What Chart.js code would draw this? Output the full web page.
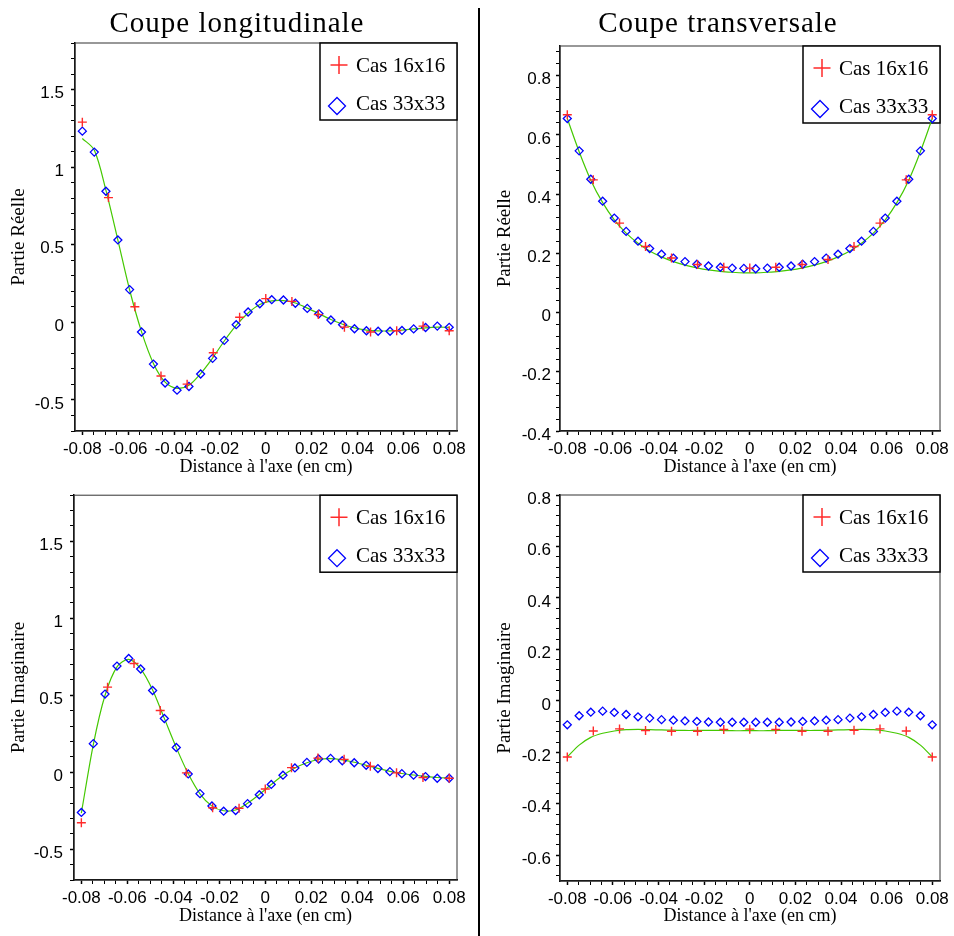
<!DOCTYPE html>
<html lang="fr">
<head>
<meta charset="UTF-8">
<title>Coupes longitudinale et transversale</title>
<style>
  body { margin: 0; background: #fff; }
  #page { position: relative; width: 954px; height: 936px; background: #fff; overflow: hidden; }
  canvas { position: absolute; }
  .titre { position: absolute; top: 6px; line-height: 32px; font-family: "Liberation Serif", serif; font-size: 29px; letter-spacing: 1px; text-align: center; color: #000; }
  #sep { position: absolute; left: 478px; top: 8px; width: 2px; height: 928px; background: #000; }
</style>
</head>
<body>
<div id="page">
  <canvas id="c1" width="478" height="478" style="left:0;top:0"></canvas>
  <canvas id="c2" width="472" height="478" style="left:482px;top:0"></canvas>
  <canvas id="c3" width="478" height="458" style="left:0;top:478px"></canvas>
  <canvas id="c4" width="472" height="458" style="left:482px;top:478px"></canvas>
  <div id="sep"></div>
  <div class="titre" style="left:0;width:474px">Coupe longitudinale</div>
  <div class="titre" style="left:482px;width:472px">Coupe transversale</div>
</div>

<script src="https://cdn.jsdelivr.net/npm/chart.js"></script>
<script>
// abscisses (cm)
const x16 = [-0.08, -0.0686, -0.0571, -0.0457, -0.0343, -0.0229, -0.0114, 0, 0.0114, 0.0229, 0.0343, 0.0457, 0.0571, 0.0686, 0.08];
const x33 = [-0.08, -0.0748, -0.0697, -0.0645, -0.0594, -0.0542, -0.049, -0.0439, -0.0387, -0.0335, -0.0284, -0.0232, -0.0181, -0.0129, -0.0077, -0.0026,
             0.0026, 0.0077, 0.0129, 0.0181, 0.0232, 0.0284, 0.0335, 0.0387, 0.0439, 0.049, 0.0542, 0.0594, 0.0645, 0.0697, 0.0748, 0.08];

// coupe longitudinale, partie reelle
const re16L = [1.29, 0.804, 0.101, -0.346, -0.398, -0.196, 0.033, 0.153, 0.135, 0.05, -0.031, -0.062, -0.054, -0.024, -0.054];
const re33L = [1.232, 1.097, 0.845, 0.531, 0.211, -0.062, -0.269, -0.391, -0.437, -0.413, -0.333, -0.232, -0.116, -0.015, 0.067, 0.12,
               0.146, 0.144, 0.123, 0.09, 0.055, 0.015, -0.015, -0.041, -0.054, -0.057, -0.057, -0.052, -0.042, -0.033, -0.024, -0.032];
const reRefL = [1.185, 1.11, 0.85, 0.53, 0.21, -0.06, -0.265, -0.385, -0.425, -0.405, -0.33, -0.23, -0.12, -0.02, 0.06, 0.115,
                0.138, 0.14, 0.125, 0.092, 0.056, 0.018, -0.012, -0.036, -0.05, -0.055, -0.055, -0.05, -0.042, -0.035, -0.031, -0.032];

// coupe transversale, partie reelle
const re16T = [0.668, 0.448, 0.302, 0.223, 0.184, 0.162, 0.153, 0.15, 0.153, 0.162, 0.179, 0.223, 0.302, 0.448, 0.668];
const re33T = [0.655, 0.546, 0.45, 0.376, 0.319, 0.274, 0.241, 0.216, 0.197, 0.184, 0.172, 0.163, 0.157, 0.153, 0.15, 0.149,
               0.148, 0.15, 0.153, 0.157, 0.163, 0.172, 0.184, 0.197, 0.216, 0.241, 0.274, 0.319, 0.376, 0.45, 0.546, 0.655];
const reRefT = [0.655, 0.543, 0.447, 0.371, 0.313, 0.268, 0.234, 0.208, 0.188, 0.172, 0.16, 0.151, 0.144, 0.139, 0.136, 0.134,
                0.134, 0.136, 0.139, 0.144, 0.151, 0.16, 0.172, 0.188, 0.208, 0.234, 0.268, 0.313, 0.371, 0.447, 0.543, 0.655];

// coupe longitudinale, partie imaginaire
const im16L = [-0.328, 0.553, 0.707, 0.401, -0.004, -0.231, -0.234, -0.109, 0.03, 0.092, 0.084, 0.039, -0.004, -0.034, -0.039];
const im33L = [-0.261, 0.186, 0.508, 0.69, 0.739, 0.671, 0.531, 0.349, 0.161, -0.011, -0.139, -0.219, -0.253, -0.249, -0.204, -0.146,
               -0.079, -0.019, 0.028, 0.064, 0.086, 0.09, 0.075, 0.062, 0.045, 0.024, 0.004, -0.009, -0.019, -0.028, -0.039, -0.039];
const imRefL = [-0.265, 0.18, 0.5, 0.685, 0.733, 0.672, 0.535, 0.35, 0.16, -0.01, -0.14, -0.22, -0.25, -0.245, -0.202, -0.145,
                -0.08, -0.02, 0.028, 0.062, 0.083, 0.088, 0.08, 0.065, 0.045, 0.025, 0.006, -0.008, -0.018, -0.027, -0.034, -0.037];

// coupe transversale, partie imaginaire
const im16T = [-0.218, -0.117, -0.109, -0.115, -0.118, -0.118, -0.111, -0.11, -0.111, -0.118, -0.118, -0.114, -0.109, -0.117, -0.218];
const im33T = [-0.093, -0.058, -0.044, -0.04, -0.045, -0.053, -0.062, -0.067, -0.073, -0.075, -0.078, -0.08, -0.082, -0.083, -0.083, -0.083,
               -0.083, -0.083, -0.083, -0.082, -0.08, -0.078, -0.075, -0.073, -0.067, -0.062, -0.053, -0.045, -0.04, -0.044, -0.058, -0.093];
const imRefT = [-0.218, -0.172, -0.142, -0.126, -0.117, -0.112, -0.111, -0.112, -0.113, -0.114, -0.115, -0.115, -0.115, -0.115, -0.116, -0.116,
                -0.116, -0.116, -0.115, -0.115, -0.115, -0.115, -0.114, -0.113, -0.112, -0.111, -0.112, -0.117, -0.126, -0.142, -0.172, -0.218];

const RED = '#ff2a2a', BLUE = '#0000ff', GREEN = '#44c800';
const SANS = 'Liberation Sans', SERIF = 'Liberation Serif';

function pts(xs, ys) { return xs.map((x, i) => ({ x: x, y: ys[i] })); }
function fmt(v) { return String(Number(v.toFixed(4))); }
function isMult(v, step) { const r = v / step; return Math.abs(r - Math.round(r)) < 1e-6; }
function tickList(lo, hi, step) {
  const out = [];
  for (let k = Math.round(lo / step); k * step <= hi + 1e-9; k++) out.push({ value: Number((k * step).toFixed(4)) });
  return out;
}

// cadre + legende dans le coin haut droit (sous les points)
const cadre = {
  id: 'cadre',
  beforeDatasetsDraw(chart) {
    const { ctx, chartArea: a } = chart;
    ctx.save();
    ctx.strokeStyle = '#333';
    ctx.lineWidth = 1;
    ctx.strokeRect(a.left, a.top, a.right - a.left, a.bottom - a.top);

    const w = 137, h = 77, x0 = a.right - w, y0 = a.top;
    ctx.fillStyle = '#fff';
    ctx.fillRect(x0, y0, w, h);
    ctx.strokeStyle = '#000';
    ctx.lineWidth = 1.5;
    ctx.strokeRect(x0, y0, w, h);

    const ds = chart.data.datasets;
    // croix
    let cx = x0 + 19, cy = y0 + 22;
    ctx.strokeStyle = ds[0].borderColor;
    ctx.lineWidth = 1.5;
    ctx.beginPath();
    ctx.moveTo(cx - 8.5, cy); ctx.lineTo(cx + 8.5, cy);
    ctx.moveTo(cx, cy - 9); ctx.lineTo(cx, cy + 9);
    ctx.stroke();
    // losange
    cx = x0 + 17; cy = y0 + 63;
    ctx.strokeStyle = ds[1].borderColor;
    ctx.lineWidth = 1.3;
    ctx.beginPath();
    ctx.moveTo(cx, cy - 8.5); ctx.lineTo(cx + 8.5, cy); ctx.lineTo(cx, cy + 8.5); ctx.lineTo(cx - 8.5, cy); ctx.closePath();
    ctx.stroke();

    ctx.fillStyle = '#000';
    ctx.font = '21px "' + SERIF + '"';
    ctx.textBaseline = 'alphabetic';
    ctx.fillText(ds[0].label, x0 + 36, y0 + 29);
    ctx.fillText(ds[1].label, x0 + 36, y0 + 67);
    ctx.restore();
  }
};

function panel(id, p) {
  new Chart(document.getElementById(id), {
    type: 'scatter',
    data: {
      datasets: [
        { label: 'Cas 16x16', data: pts(x16, p.y16), pointStyle: 'cross', pointRadius: 4.5, pointHoverRadius: 4.5,
          borderColor: RED, backgroundColor: RED, borderWidth: 1.4, showLine: false },
        { label: 'Cas 33x33', data: pts(x33, p.y33), pointStyle: 'rectRot', pointRadius: 4, pointHoverRadius: 4,
          borderColor: BLUE, backgroundColor: 'rgba(255,255,255,0)', borderWidth: 1.3, showLine: false },
        { label: 'Référence', data: pts(x33, p.yRef), showLine: true, pointRadius: 0, borderColor: GREEN,
          borderWidth: 1.2, tension: 0.3, fill: false }
      ]
    },
    options: {
      responsive: false,
      animation: false,
      layout: { padding: { top: p.top, right: p.right, bottom: 0, left: 0 } },
      plugins: { legend: { display: false }, tooltip: { enabled: false } },
      scales: {
        x: {
          type: 'linear', min: -0.0832, max: 0.0834,
          afterBuildTicks: s => { s.ticks = tickList(-0.08, 0.08, 0.005); },
          afterFit: s => { s.height = p.xh; },
          ticks: { autoSkip: false, maxRotation: 0, padding: p.xpad, color: '#000', font: { family: SANS, size: 17 },
                   callback: v => isMult(v, 0.02) ? fmt(v) : '' },
          grid: { drawOnChartArea: false, tickLength: 4, tickColor: '#000',
                  tickWidth: c => isMult(c.tick.value, 0.02) ? 1.5 : 1 },
          border: { color: '#000', width: 1.5 },
          title: { display: true, text: "Distance à l'axe (en cm)", color: '#000',
                   font: { family: SERIF, size: 18 }, padding: { top: 0, bottom: p.tpad } }
        },
        y: {
          type: 'linear', min: p.ymin, max: p.ymax,
          afterBuildTicks: s => { s.ticks = tickList(p.ymin, p.ymax, p.minor); },
          afterFit: s => { s.width = p.yw; },
          ticks: { autoSkip: false, padding: p.ypad, labelOffset: 4, color: '#000', font: { family: SANS, size: 17 },
                   callback: v => isMult(v, p.major) ? fmt(v) : '' },
          grid: { drawOnChartArea: false, tickLength: 4, tickColor: '#000',
                  tickWidth: c => isMult(c.tick.value, p.major) ? 1.5 : 1 },
          border: { color: '#000', width: 1.5 },
          title: { display: true, text: p.ytitle, color: '#000',
                   font: { family: SERIF, size: 19 }, padding: { top: p.ytpad, bottom: 0 } }
        }
      }
    },
    plugins: [cadre]
  });
}

panel('c1', { y16: re16L, y33: re33L, yRef: reRefL, ymin: -0.7, ymax: 1.8, minor: 0.1, major: 0.5,
  ytitle: 'Partie Réelle', top: 43, right: 21, xh: 47, yw: 75, xpad: 4, ypad: 7, tpad: 0, ytpad: 8 });
panel('c2', { y16: re16T, y33: re33T, yRef: reRefT, ymin: -0.4, ymax: 0.9, minor: 0.04, major: 0.2,
  ytitle: 'Partie Réelle', top: 46, right: 14, xh: 47, yw: 78, xpad: 4, ypad: 5, tpad: 0, ytpad: 12 });
panel('c3', { y16: im16L, y33: im33L, yRef: imRefL, ymin: -0.7, ymax: 1.8, minor: 0.1, major: 0.5,
  ytitle: 'Partie Imaginaire', top: 14, right: 21, xh: 56, yw: 74, xpad: 4, ypad: 7, tpad: 9, ytpad: 8 });
panel('c4', { y16: im16T, y33: im33T, yRef: imRefT, ymin: -0.7, ymax: 0.8, minor: 0.04, major: 0.2,
  ytitle: 'Partie Imaginaire', top: 17, right: 14, xh: 55, yw: 78, xpad: 4, ypad: 5, tpad: 9, ytpad: 12 });
</script>
</body>
</html>
